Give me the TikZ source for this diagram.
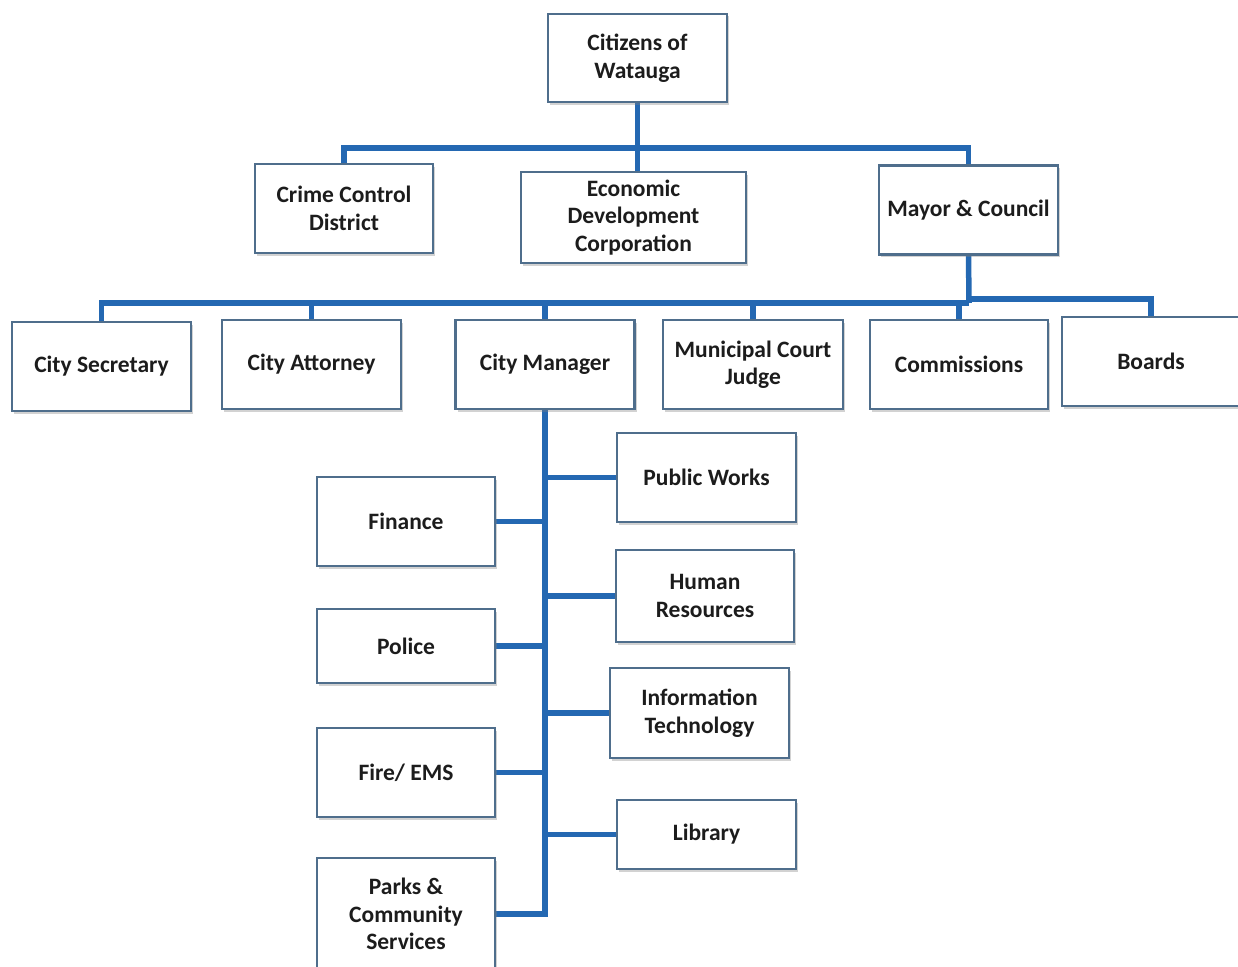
\documentclass[tikz,border=0pt]{standalone}
\usepackage{fontspec}
\setmainfont{Carlito}
\usetikzlibrary{shadows,backgrounds}
\definecolor{linkblue}{HTML}{2468B2}
\definecolor{boxline}{HTML}{4F6E8C}
\definecolor{txt}{HTML}{1C1C1C}
\begin{document}
\begin{tikzpicture}[x=1pt,y=-1pt,
  box/.style={draw=boxline, line width=2.2pt, fill=white, align=center,
    font=\fontsize{23.5}{27.5}\selectfont\bfseries, text=txt, inner sep=2pt,
    drop shadow={opacity=0.35, shadow xshift=2pt, shadow yshift=-2.5pt}},
  link/.style={draw=linkblue, line width=5.5pt}]
\clip (0,0) rectangle (1238,966);
\useasboundingbox (0,0) rectangle (1238,966);

\coordinate (c1) at (637,148);
\coordinate (b2m) at (969,303);
\coordinate (b2mr) at (969,299);
\coordinate (v1) at (545,914);

% nodes
\node[box, minimum width=179, minimum height=88] (cit) at (637.5,58) {Citizens of\\Watauga};
\node[box, minimum width=178, minimum height=89] (ccd) at (344,208.5) {Crime Control\\District};
\node[box, minimum width=225, minimum height=91, text width=210] (edc) at (633.5,217.5) {Economic\\Development\\Corporation};
\node[box, minimum width=179, minimum height=89] (may) at (968.5,210) {Mayor \& Council};

\node[box, minimum width=179, minimum height=89] (sec) at (101.5,366.5) {City Secretary};
\node[box, minimum width=179, minimum height=89] (att) at (311.5,364.5) {City Attorney};
\node[box, minimum width=179, minimum height=89] (man) at (545,364.5) {City Manager};
\node[box, minimum width=180, minimum height=89] (mun) at (753,364.5) {Municipal Court\\Judge};
\node[box, minimum width=178, minimum height=89] (com) at (959,364.5) {Commissions};
\node[box, minimum width=178, minimum height=89] (brd) at (1151,361.5) {Boards};

\node[box, minimum width=179, minimum height=89] (pw) at (706.5,477.5) {Public Works};
\node[box, minimum width=178, minimum height=89] (fin) at (406,521.5) {Finance};
\node[box, minimum width=178, minimum height=92] (hr) at (705,596) {Human\\Resources};
\node[box, minimum width=178, minimum height=74] (pol) at (406,646) {Police};
\node[box, minimum width=179, minimum height=90] (it) at (699.5,713) {Information\\Technology};
\node[box, minimum width=178, minimum height=89] (fire) at (406,772.5) {Fire/ EMS};
\node[box, minimum width=179, minimum height=69] (lib) at (706.5,834.5) {Library};
\node[box, minimum width=178, minimum height=112] (park) at (406,914) {Parks \&\\Community\\Services};

\begin{scope}[on background layer]
\fill[white] (0,0) rectangle (1238,966);
\draw[link] (cit.south) -- (cit.south |- edc.north);
\draw[link] (ccd.north) |- (c1) -| (may.north);
\draw[link] (may.south) -- (b2m);
\draw[link] (sec.north) |- (b2m);
\draw[link] (att.north) -- (att.north |- b2m);
\draw[link] (man.north) -- (man.north |- b2m);
\draw[link] (mun.north) -- (mun.north |- b2m);
\draw[link] (com.north) -- (com.north |- b2m);
\draw[link] (b2mr) -| (brd.north);
\draw[link] (man.south) -- (v1) -- (park.east |- v1);
\draw[link] (pw.west) -- (pw.west -| v1);
\draw[link] (fin.east) -- (fin.east -| v1);
\draw[link] (hr.west) -- (hr.west -| v1);
\draw[link] (pol.east) -- (pol.east -| v1);
\draw[link] (it.west) -- (it.west -| v1);
\draw[link] (fire.east) -- (fire.east -| v1);
\draw[link] (lib.west) -- (lib.west -| v1);
\end{scope}
\end{tikzpicture}
\end{document}
